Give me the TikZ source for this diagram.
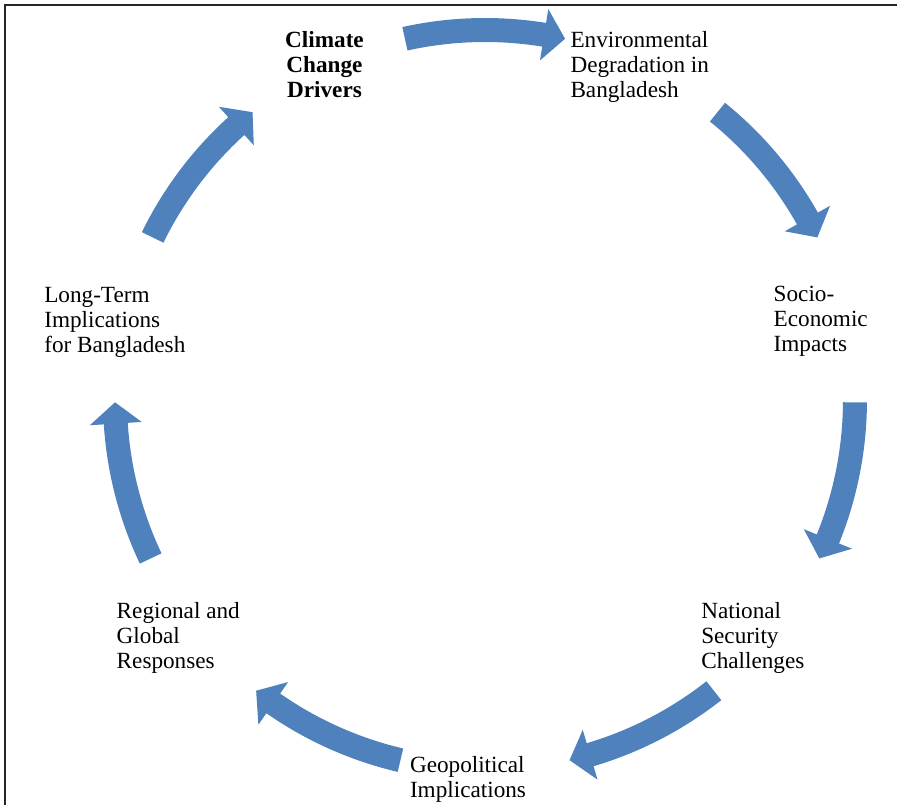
\documentclass[tikz,border=0pt]{standalone}
\usepackage{fontspec}
\setmainfont{Liberation Serif}
\usetikzlibrary{positioning}
\definecolor{cycleblue}{RGB}{79,129,189}
\def\ringrad{370}  % radius of the arrow ring
\def\shafthw{12}   % half width of an arrow shaft
\def\headhw{26}    % half width of an arrow head
\tikzset{
x=0.02cm, y=0.02cm,
stage/.style={text width=3cm,align=flush left,inner sep=0pt,
  font=\fontsize{13.2}{14.2}\selectfont},
first stage/.style={stage,align=flush center,
  font=\fontsize{13.2}{14.2}\selectfont\bfseries},
cycle arrow/.style={fill=cycleblue,draw=none},
frame/.style={draw=black!85,line width=1pt},
}

\begin{document}
\begin{tikzpicture}
\useasboundingbox (0,0) rectangle (897,805);
\draw[frame] (5,0) -- (5,800) -- (897,800);

\begin{scope}[shift={(485,405)}]
% the seven stages, clockwise from the top
\node[first stage,yshift=0.04cm] (drivers) at (115.71:\ringrad) {Climate\\Change\\Drivers};
\node[stage] (degradation) at (64.29:\ringrad) {Environmental\\Degradation in\\Bangladesh};
\node[stage,xshift=0.06cm,yshift=-0.08cm] (impacts) at (12.86:\ringrad) {Socio-\\Economic\\Impacts};
\node[stage,xshift=0.04cm,yshift=-0.14cm] (security) at (-38.57:\ringrad) {National\\Security\\Challenges};
\node[stage,yshift=-0.18cm] (geopolitics) at (-90:\ringrad) {Geopolitical\\Implications};
\node[stage,xshift=-0.08cm,yshift=-0.14cm] (responses) at (-141.43:\ringrad) {Regional and\\Global\\Responses};
\node[stage,xshift=-0.1cm,yshift=-0.1cm] (longterm) at (167.14:\ringrad) {Long-Term\\Implications\\for Bangladesh};

% curved block arrows between the stages
\foreach \a in {90,38.57,-12.86,-64.29,-115.71,-167.14,141.43} {
  \pgfmathsetmacro\tail{\a+12.5}
  \pgfmathsetmacro\tip{\a-12.5}
  \pgfmathsetmacro\base{\a-9.2}
  \fill[cycle arrow] (\tail:{\ringrad+\shafthw})
    arc[start angle=\tail,end angle=\base,radius=\ringrad+\shafthw]
    -- (\base:{\ringrad+\headhw}) -- (\tip:\ringrad)
    -- (\base:{\ringrad-\headhw}) -- (\base:{\ringrad-\shafthw})
    arc[start angle=\base,end angle=\tail,radius=\ringrad-\shafthw]
    -- cycle;
}
\end{scope}
\end{tikzpicture}
\end{document}
